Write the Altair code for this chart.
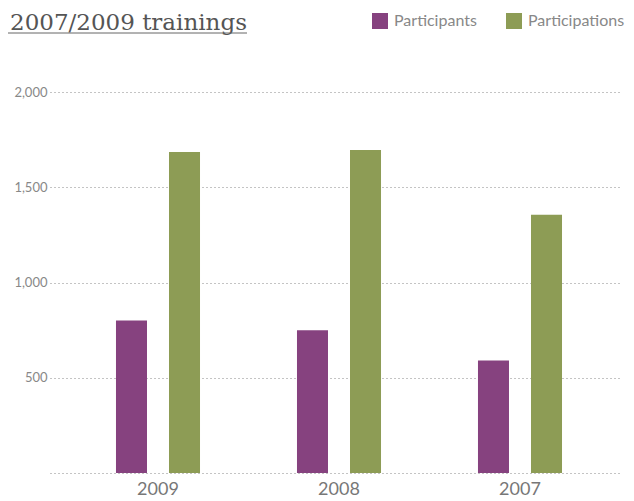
import altair as alt
import pandas as pd

years = ["2009", "2008", "2007"]
series = ["Participants", "Participations"]
participants = [800, 750, 590]
participations = [1685, 1695, 1355]
title_text = "2007/2009 trainings"
colors = ["#86427f", "#8d9c55"]

rows = []
for i, y in enumerate(years):
    rows.append({"year": y, "series": series[0], "value": participants[i]})
    rows.append({"year": y, "series": series[1], "value": participations[i]})
df = pd.DataFrame(rows)

FONT = "Lato"

bars = alt.Chart(df).mark_bar().encode(
    x=alt.X("year:N", sort=years, title=None,
            scale=alt.Scale(paddingInner=0, paddingOuter=0.0746, align=0.648),
            axis=alt.Axis(labelAngle=0, domain=False, ticks=False, grid=False,
                          labelFont=FONT, labelFontSize=18, labelColor="#777",
                          labelPadding=7)),
    xOffset=alt.XOffset("series:N", sort=series,
                        scale=alt.Scale(paddingInner=0.415, paddingOuter=0.9145)),
    y=alt.Y("value:Q", title=None,
            scale=alt.Scale(domain=[0, 2000], nice=False),
            axis=alt.Axis(values=[0, 500, 1000, 1500, 2000],
                          labelExpr="datum.value == 0 ? '' : format(datum.value, ',')",
                          domain=False, ticks=False, grid=True,
                          gridDash=[1, 3], gridColor="#888", gridWidth=1,
                          labelFont=FONT, labelFontSize=13, labelColor="#888",
                          labelPadding=3)),
    color=alt.Color("series:N", sort=series, title=None,
                    scale=alt.Scale(domain=series, range=colors),
                    legend=alt.Legend(orient="none", direction="horizontal",
                                      legendX=322, legendY=-79, padding=0,
                                      symbolType="square", symbolSize=256,
                                      symbolStrokeWidth=0,
                                      labelFont=FONT, labelFontSize=16,
                                      labelColor="#888", labelOffset=6,
                                      columnPadding=29)),
)

tdf = pd.DataFrame({"t": [title_text]})
title = alt.Chart(tdf).mark_text(
    font="DejaVu Serif", fontSize=23, color="#555", align="left",
    baseline="alphabetic"
).encode(x=alt.value(-40), y=alt.value(-62), text="t:N")

underline = alt.Chart(tdf).mark_rule(color="#666", strokeWidth=1).encode(
    x=alt.value(-42), x2=alt.value(197), y=alt.value(-59)
)

chart = alt.layer(bars, title, underline).properties(
    width=570, height=381,
    autosize=alt.AutoSizeParams(type="none"),
    padding={"left": 42, "top": 84, "right": 6, "bottom": 26},
).configure_view(stroke=None)

chart.save("out.html", embed_options={"renderer": "svg", "actions": False})
